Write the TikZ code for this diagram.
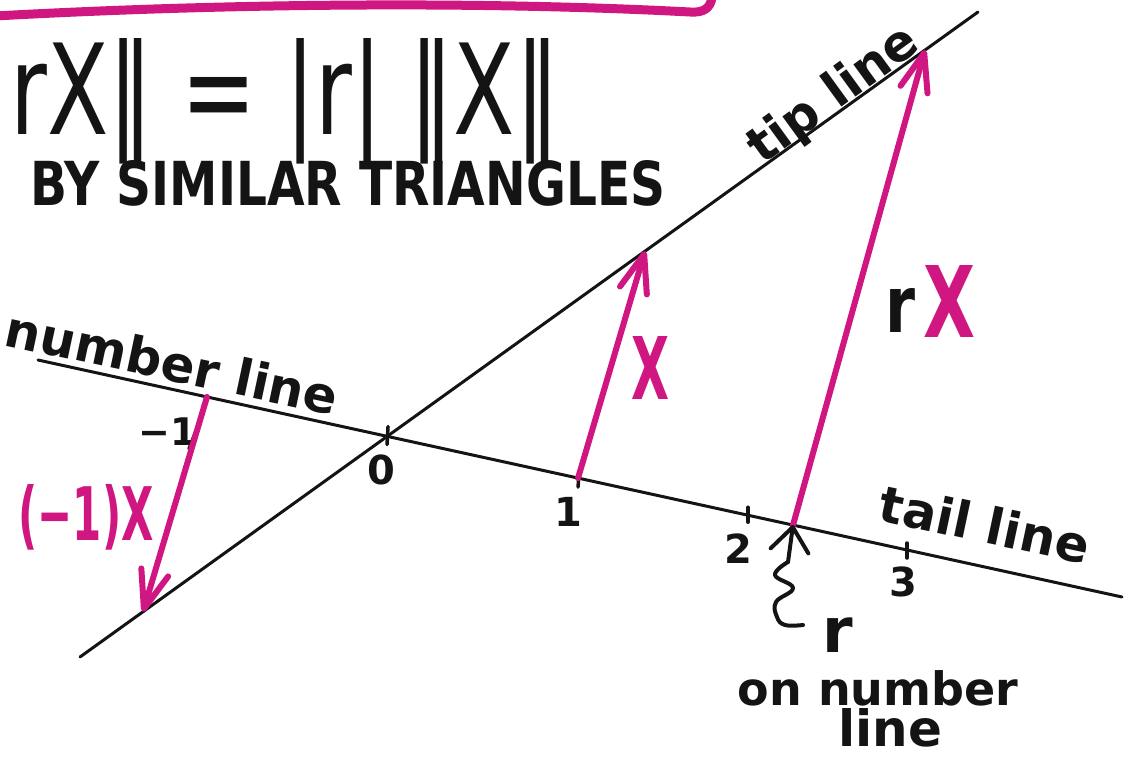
\documentclass[tikz,border=0pt]{standalone}
\usepackage{fontspec}
\setmainfont{DejaVu Sans}
\usetikzlibrary{arrows.meta,calc}
\definecolor{mag}{RGB}{208,22,128}
\definecolor{ink}{RGB}{20,20,20}
\begin{document}
\begin{tikzpicture}[x=1pt,y=-1pt,
  blk/.style={line width=3pt, line cap=round, ink},
  tickmark/.style={line width=3.5pt, line cap=round, ink},
  vec/.style={line width=6pt, mag, line cap=round,
    -{Straight Barb[length=38pt,width=28pt,line width=6pt,round]}},
  hand/.style={inner sep=0pt, ink, font=\bfseries},
  handm/.style={inner sep=0pt, mag, font=\bfseries},
]
\useasboundingbox (0,0) rectangle (1130,765);
% top magenta stroke
\draw[mag, line width=9pt, line cap=round] (-5,16) .. controls (250,2) and (500,2) .. (690,12) .. controls (704,13) and (710,8) .. (712,-2);
% lines
\coordinate (nlA) at (38,360); \coordinate (nlB) at (1122,597);
\coordinate (tlA) at (80,657); \coordinate (tlB) at (978,12);
\draw[blk] (nlA) -- (nlB);
\draw[blk] (tlA) -- (tlB);
% points on number line
\coordinate (p0) at ($(nlA)!0.3229!(nlB)$);
\coordinate (pm1) at ($(nlA)!0.1559!(nlB)$);
\coordinate (p1) at ($(nlA)!0.4982!(nlB)$);
\coordinate (p2) at ($(nlA)!0.6550!(nlB)$);
\coordinate (p3) at ($(nlA)!0.8017!(nlB)$);
\coordinate (pr) at ($(nlA)!0.6965!(nlB)$);
% points on tip line
\coordinate (qx) at ($(tlA)!0.6292!(tlB)$);
\coordinate (qrx) at ($(tlA)!0.9410!(tlB)$);
\coordinate (qm) at ($(tlA)!0.0702!(tlB)$);
% ticks
\draw[tickmark] ($(p0)+(0,-10)$) -- ($(p0)+(-1,8)$);
\draw[tickmark] ($(p1)+(1,-6)$) -- ($(p1)+(0,9)$);
\draw[tickmark] ($(p2)+(0,-8)$) -- ($(p2)+(0,7)$);
\draw[tickmark] ($(p3)+(0,-7)$) -- ($(p3)+(0,8)$);
\draw[tickmark] ($(pm1)+(-8,26)$) -- ($(pm1)+(-18,52)$);
% tick labels
\node[hand, font=\bfseries\fontsize{40}{40}\selectfont] (l0) at (381,470) {0};
\node[hand, font=\bfseries\fontsize{40}{40}\selectfont] (l1) at (568,512) {1};
\node[hand, font=\bfseries\fontsize{40}{40}\selectfont] (l2) at (738,549) {2};
\node[hand, font=\bfseries\fontsize{40}{40}\selectfont] (l3) at (903,582) {3};
\node[hand, font=\bfseries\fontsize{38}{38}\selectfont] (lm1) at (168,432) {−1};
% vectors
\draw[vec] (p1) -- (qx);
\draw[vec] (pr) -- (qrx);
\draw[vec] (pm1) -- (qm);
% r marker arrow and squiggle
\coordinate (sq) at (788,562);
\draw[blk, line width=4pt, -{Straight Barb[length=24pt,width=38pt,line width=4pt,round]}] (sq) -- (pr);
\draw[blk, line width=4pt, line join=round] plot[smooth, tension=0.7] coordinates {(788,562) (775,575) (793,588) (776,602) (777,617) (785,625) (803,625)};
% labels
\node[hand, font=\fontsize{120}{120}\selectfont, anchor=base west] (title) at (10,135) {\resizebox{550pt}{96pt}{rX‖ = \textbar r\textbar\hspace{0.3em}‖X‖}};
\node[hand, anchor=base west] (sub) at (30,205) {\resizebox{635pt}{45pt}{\bfseries BY SIMILAR TRIANGLES}};
\node[hand, font=\bfseries\fontsize{50}{50}\selectfont, rotate=-12] (nl) at (172,362) {number line};
\node[hand, font=\bfseries\fontsize{50}{50}\selectfont, rotate=36] (tl) at (834,96) {tip line};
\node[hand, font=\bfseries\fontsize{50}{50}\selectfont, rotate=-12] (tal) at (985,524) {tail line};
\node[hand, font=\bfseries\fontsize{46}{46}\selectfont] (onl) at (878,688) {on number};
\node[hand, font=\bfseries\fontsize{50}{50}\selectfont] (lin) at (890,728) {line};
\node[hand, font=\bfseries\fontsize{62}{62}\selectfont] (rr) at (838,635) {r};
\node[handm] (xl) at (651,368) {\resizebox{38pt}{63pt}{X}};
\node[hand] (rl) at (900,310) {\resizebox{30pt}{44pt}{r}};
\node[handm] (xr) at (949,301) {\resizebox{52pt}{72pt}{X}};
\node[handm] (mx) at (86,517) {\resizebox{135pt}{56pt}{(−1)X}};
\end{tikzpicture}
\end{document}
